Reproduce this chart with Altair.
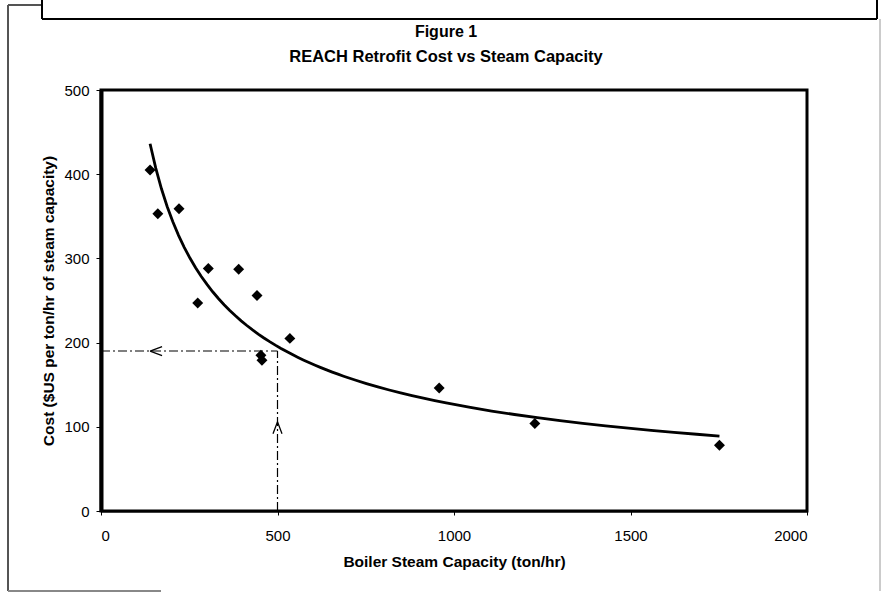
import altair as alt
import pandas as pd

# Data
capacity = [139, 161, 221, 274, 304, 390, 442, 453, 456, 535, 958, 1229, 1752]
cost = [405, 353, 359, 247, 288, 287, 256, 185, 179, 205, 146, 104, 78]

# Reading guide (500 ton/hr -> ~190 $US)
guide_x = [0, 500]
guide_x2 = [500, 500]
guide_y = [190, 0]
guide_y2 = [190, 190]

# Arrowhead positions
arrow_left_x = [139]
arrow_left_y = [190]
arrow_up_x = [500]
arrow_up_y = [106]

x_ticks = [0, 500, 1000, 1500, 2000]
y_ticks = [0, 100, 200, 300, 400, 500]

title_lines = ["Figure 1", "REACH Retrofit Cost vs Steam Capacity"]

FONT = "Liberation Sans"

df = pd.DataFrame({"cap": capacity, "cost": cost})
guides = pd.DataFrame({"x": guide_x, "x2": guide_x2, "y": guide_y, "y2": guide_y2})
left_arrow = pd.DataFrame({"x": arrow_left_x, "y": arrow_left_y})
up_arrow = pd.DataFrame({"x": arrow_up_x, "y": arrow_up_y})

xscale = alt.Scale(domain=[0, 2000], nice=False, zero=False)
yscale = alt.Scale(domain=[0, 500], nice=False, zero=False)

xaxis = alt.Axis(values=x_ticks, format="d", title="Boiler Steam Capacity (ton/hr)", grid=False,
                 domain=True, domainColor="black", domainWidth=2,
                 tickColor="black", tickSize=4, labelPadding=13, titlePadding=11)
yaxis = alt.Axis(values=y_ticks, format="d", title="Cost ($US per ton/hr of steam capacity)", grid=False,
                 domain=True, domainColor="black", domainWidth=4,
                 tickColor="black", tickSize=5, labelPadding=7, titlePadding=7)

base = alt.Chart(df)

points = base.mark_point(shape="diamond", filled=True, color="black", size=120, opacity=1).encode(
    x=alt.X("cap:Q", scale=xscale, axis=xaxis),
    y=alt.Y("cost:Q", scale=yscale, axis=yaxis),
)

trend = base.transform_regression("cap", "cost", method="pow").mark_line(
    color="black", strokeWidth=2.8
).encode(
    x=alt.X("cap:Q", scale=xscale),
    y=alt.Y("cost:Q", scale=yscale),
)

guide_rules = alt.Chart(guides).mark_rule(color="black", strokeWidth=1.2, strokeDash=[9, 3, 2, 3]).encode(
    x=alt.X("x:Q", scale=xscale),
    x2="x2:Q",
    y=alt.Y("y:Q", scale=yscale),
    y2="y2:Q",
)

arrow_l = alt.Chart(left_arrow).mark_point(
    shape="M0,0L2,-0.75M0,0L2,0.75", filled=False, color="black", strokeWidth=1.3, size=144, opacity=1
).encode(x=alt.X("x:Q", scale=xscale), y=alt.Y("y:Q", scale=yscale))

arrow_u = alt.Chart(up_arrow).mark_point(
    shape="M-0.75,2L0,0L0.75,2", filled=False, color="black", strokeWidth=1.3, size=144, opacity=1
).encode(x=alt.X("x:Q", scale=xscale), y=alt.Y("y:Q", scale=yscale))

# Two-line title as text marks (pixel positions relative to the plot origin)
title1 = alt.Chart(pd.DataFrame({"t": [title_lines[0]]})).mark_text(
    font=FONT, fontSize=16, fontWeight="bold", color="black", align="center", baseline="alphabetic"
).encode(text="t:N", x=alt.value(345), y=alt.value(-53))
title2 = alt.Chart(pd.DataFrame({"t": [title_lines[1]]})).mark_text(
    font=FONT, fontSize=16.5, fontWeight="bold", color="black", align="center", baseline="alphabetic"
).encode(text="t:N", x=alt.value(345), y=alt.value(-28))

# Page frame decoration (scanned document borders), in pixels relative to plot origin
def vline(x, y1, y2, color="black", w=1.5):
    return alt.Chart(df).mark_rule(color=color, strokeWidth=w).encode(
        x=alt.value(x), y=alt.value(y1), y2=alt.value(y2))

def hline(y, x1, x2, color="black", w=1.5):
    return alt.Chart(df).mark_rule(color=color, strokeWidth=w).encode(
        y=alt.value(y), x=alt.value(x1), x2=alt.value(x2))

frame = [
    vline(-93, -85, 501, "#555555", 1.2),
    hline(-85, -93, -59, "#555555", 1.2),
    vline(-59, -90, -71, "black", 1.5),
    hline(-71, -59, 776, "black", 2),
    vline(776, -90, -71, "black", 1.5),
    hline(501, -93, 60, "#888888", 1.5),
    vline(779, -71, 501, "#cccccc", 1.2),
]

chart = alt.layer(
    *frame, guide_rules, trend, points, arrow_l, arrow_u, title1, title2
).properties(
    width=706,
    height=421,
    autosize=alt.AutoSizeParams(type="none"),
    padding={"left": 101, "top": 90, "right": 75, "bottom": 83},
    background="white",
).configure_view(
    stroke="black", strokeWidth=3
).configure_axis(
    labelFont=FONT, labelFontSize=15, labelColor="black",
    titleFont=FONT, titleFontSize=15.5, titleFontWeight="bold", titleColor="black",
)

chart.save("out.html", embed_options={"renderer": "svg", "actions": False})
